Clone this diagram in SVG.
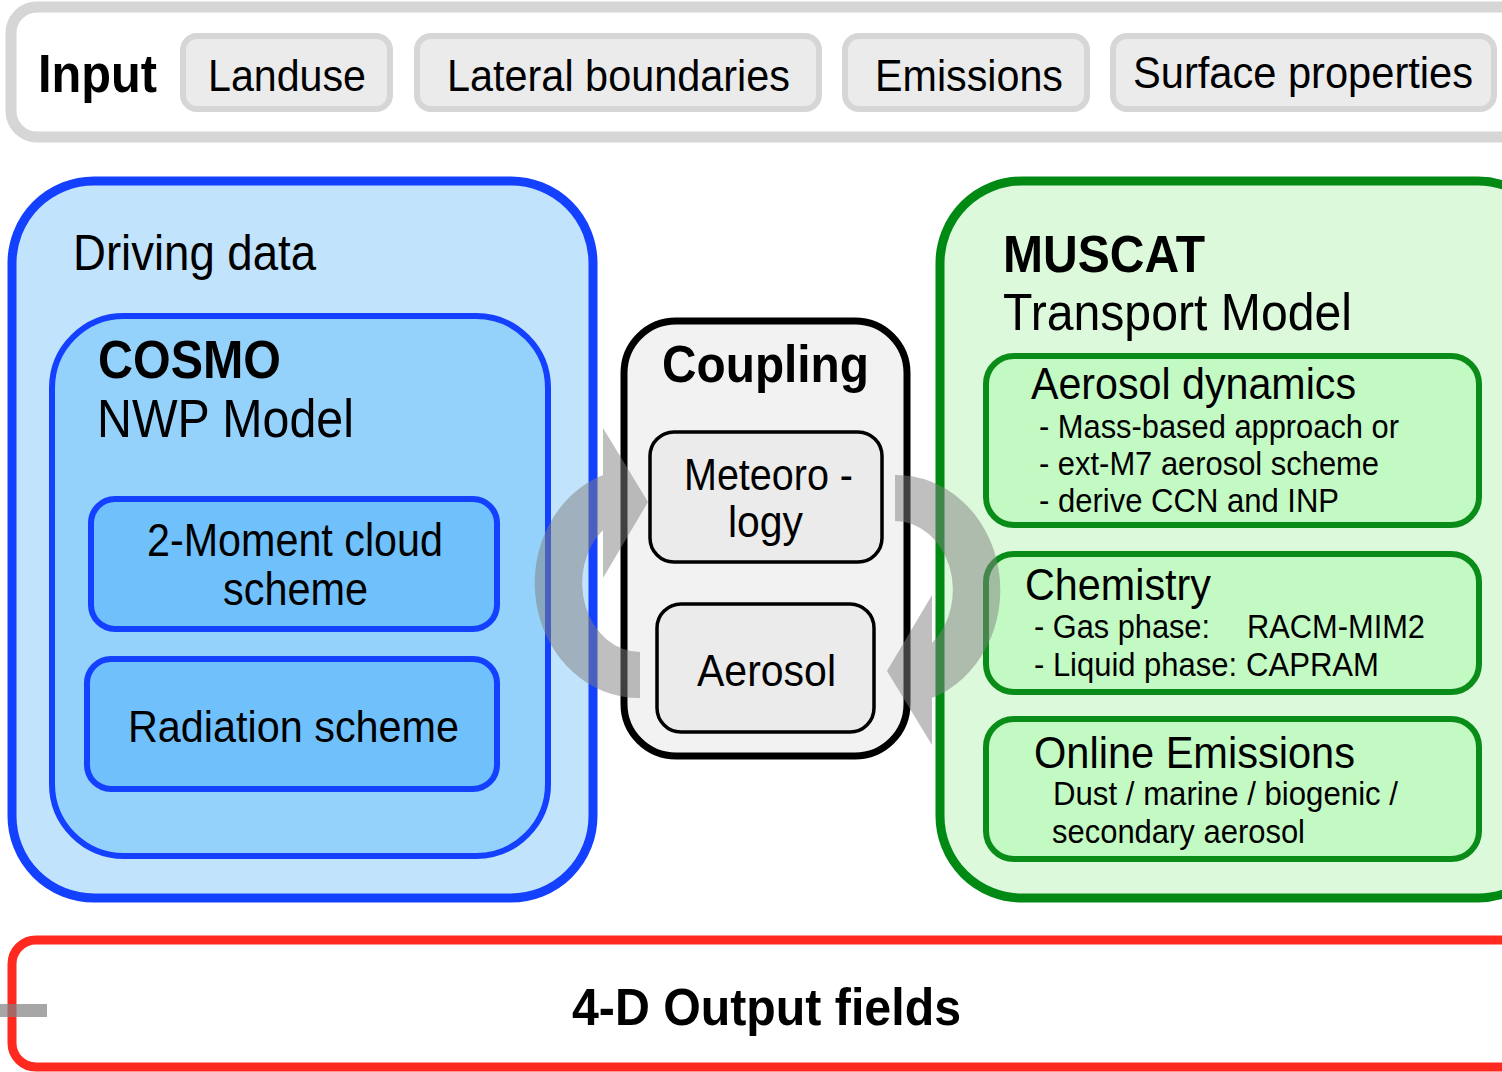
<svg xmlns="http://www.w3.org/2000/svg" width="1502" height="1072" viewBox="0 0 1502 1072">
<defs>
<style>
text{font-family:"Liberation Sans",Arial,Helvetica,sans-serif;fill:#000;}
.b{font-weight:bold;}
.chip{fill:#ebebeb;stroke:#d6d6d6;stroke-width:6;}
.arrow{fill:#808080;fill-opacity:0.5;}
</style>
<path id="carrow" d="M603,475 A104,115 0 0 0 640,698 L640,652 A58,69 0 0 1 603,530 Z M603,428 L648,502 L603,578 Z"/>
</defs>
<rect width="1502" height="1072" fill="#fff"/>

<g id="input">
<rect x="11" y="7" width="1540" height="130" rx="26" fill="#fff" stroke="#d6d6d6" stroke-width="11"/>
<text class="b" x="38" y="92" font-size="53" textLength="119" lengthAdjust="spacingAndGlyphs">Input</text>
</g>
<g id="landuse">
<rect class="chip" x="183" y="36" width="207" height="73" rx="14"/>
<text x="208" y="91" font-size="45" textLength="158" lengthAdjust="spacingAndGlyphs">Landuse</text>
</g>
<g id="lateral">
<rect class="chip" x="417" y="36" width="402" height="73" rx="14"/>
<text x="447" y="91" font-size="45" textLength="343" lengthAdjust="spacingAndGlyphs">Lateral boundaries</text>
</g>
<g id="emissions">
<rect class="chip" x="845" y="36" width="242" height="73" rx="14"/>
<text x="875" y="91" font-size="45" textLength="188" lengthAdjust="spacingAndGlyphs">Emissions</text>
</g>
<g id="surface">
<rect class="chip" x="1113" y="36" width="381" height="73" rx="14"/>
<text x="1133" y="88" font-size="45" textLength="340" lengthAdjust="spacingAndGlyphs">Surface properties</text>
</g>

<g id="driving">
<rect x="12" y="181" width="581" height="717" rx="82" fill="#c1e3fb" stroke="#1440ff" stroke-width="9"/>
<text x="73" y="270" font-size="50" textLength="243" lengthAdjust="spacingAndGlyphs">Driving data</text>
</g>
<g id="cosmo">
<rect x="52" y="316" width="496" height="540" rx="72" fill="#94d1fb" stroke="#1440ff" stroke-width="6"/>
<text class="b" x="98" y="378" font-size="53" textLength="183" lengthAdjust="spacingAndGlyphs">COSMO</text>
<text x="97" y="437" font-size="53" textLength="257" lengthAdjust="spacingAndGlyphs">NWP Model</text>
</g>
<g id="cloud">
<rect x="91" y="499" width="406" height="130" rx="24" fill="#70c0fb" stroke="#1440ff" stroke-width="6"/>
<text x="147" y="556" font-size="46" textLength="296" lengthAdjust="spacingAndGlyphs">2-Moment cloud</text>
<text x="223" y="605" font-size="46" textLength="145" lengthAdjust="spacingAndGlyphs">scheme</text>
</g>
<g id="radiation">
<rect x="87" y="659" width="410" height="130" rx="24" fill="#70c0fb" stroke="#1440ff" stroke-width="6"/>
<text x="128" y="742" font-size="45" textLength="331" lengthAdjust="spacingAndGlyphs">Radiation scheme</text>
</g>

<g id="coupling">
<rect x="624" y="321" width="283" height="435" rx="52" fill="#f2f2f2" stroke="#000" stroke-width="7"/>
<text class="b" x="662" y="382" font-size="52" textLength="207" lengthAdjust="spacingAndGlyphs">Coupling</text>
</g>
<g id="meteorology">
<rect x="650" y="432" width="232" height="130" rx="24" fill="#ebebeb" stroke="#000" stroke-width="3.5"/>
<text x="684" y="490" font-size="45" textLength="169" lengthAdjust="spacingAndGlyphs">Meteoro -</text>
<text x="728" y="537" font-size="45" textLength="75" lengthAdjust="spacingAndGlyphs">logy</text>
</g>
<g id="aerosol">
<rect x="657" y="604" width="217" height="128" rx="24" fill="#ebebeb" stroke="#000" stroke-width="3.5"/>
<text x="697" y="686" font-size="45" textLength="139" lengthAdjust="spacingAndGlyphs">Aerosol</text>
</g>

<g id="muscat">
<rect x="940" y="181" width="620" height="717" rx="82" fill="#dcf9dc" stroke="#008a14" stroke-width="9"/>
<text class="b" x="1003" y="272" font-size="52" textLength="202" lengthAdjust="spacingAndGlyphs">MUSCAT</text>
<text x="1003" y="330" font-size="52" textLength="349" lengthAdjust="spacingAndGlyphs">Transport Model</text>
</g>
<g id="aerosol-dynamics">
<rect x="986" y="356" width="493" height="169" rx="28" fill="#c3f9c3" stroke="#0a8c18" stroke-width="6"/>
<text x="1031" y="399" font-size="45" textLength="325" lengthAdjust="spacingAndGlyphs">Aerosol dynamics</text>
<text x="1039" y="438" font-size="34" textLength="360" lengthAdjust="spacingAndGlyphs">- Mass-based approach or</text>
<text x="1039" y="475" font-size="34" textLength="340" lengthAdjust="spacingAndGlyphs">- ext-M7 aerosol scheme</text>
<text x="1039" y="512" font-size="34" textLength="300" lengthAdjust="spacingAndGlyphs">- derive CCN and INP</text>
</g>
<g id="chemistry">
<rect x="986" y="554" width="493" height="138" rx="28" fill="#c3f9c3" stroke="#0a8c18" stroke-width="6"/>
<text x="1025" y="600" font-size="45" textLength="186" lengthAdjust="spacingAndGlyphs">Chemistry</text>
<text y="638" font-size="34"><tspan x="1034" textLength="176" lengthAdjust="spacingAndGlyphs">- Gas phase:</tspan><tspan x="1247" textLength="178" lengthAdjust="spacingAndGlyphs">RACM-MIM2</tspan></text>
<text y="676" font-size="34"><tspan x="1034" textLength="203" lengthAdjust="spacingAndGlyphs">- Liquid phase:</tspan><tspan x="1246" textLength="133" lengthAdjust="spacingAndGlyphs">CAPRAM</tspan></text>
</g>
<g id="online-emissions">
<rect x="986" y="719" width="493" height="140" rx="28" fill="#c3f9c3" stroke="#0a8c18" stroke-width="6"/>
<text x="1034" y="768" font-size="45" textLength="321" lengthAdjust="spacingAndGlyphs">Online Emissions</text>
<text x="1053" y="805" font-size="34" textLength="345" lengthAdjust="spacingAndGlyphs">Dust / marine / biogenic /</text>
<text x="1052" y="843" font-size="34" textLength="253" lengthAdjust="spacingAndGlyphs">secondary aerosol</text>
</g>

<g id="output">
<rect x="12" y="940" width="1560" height="127" rx="24" fill="#fff" stroke="#ff2a1f" stroke-width="9"/>
<text class="b" x="572" y="1025" font-size="52" textLength="389" lengthAdjust="spacingAndGlyphs">4-D Output fields</text>
</g>

<g id="connectors">
<use href="#carrow" class="arrow"/>
<use href="#carrow" class="arrow" transform="rotate(180 767.5 586.5)"/>
<rect x="0" y="1004" width="47" height="13" fill="#808080" fill-opacity="0.7"/>
</g>
</svg>
